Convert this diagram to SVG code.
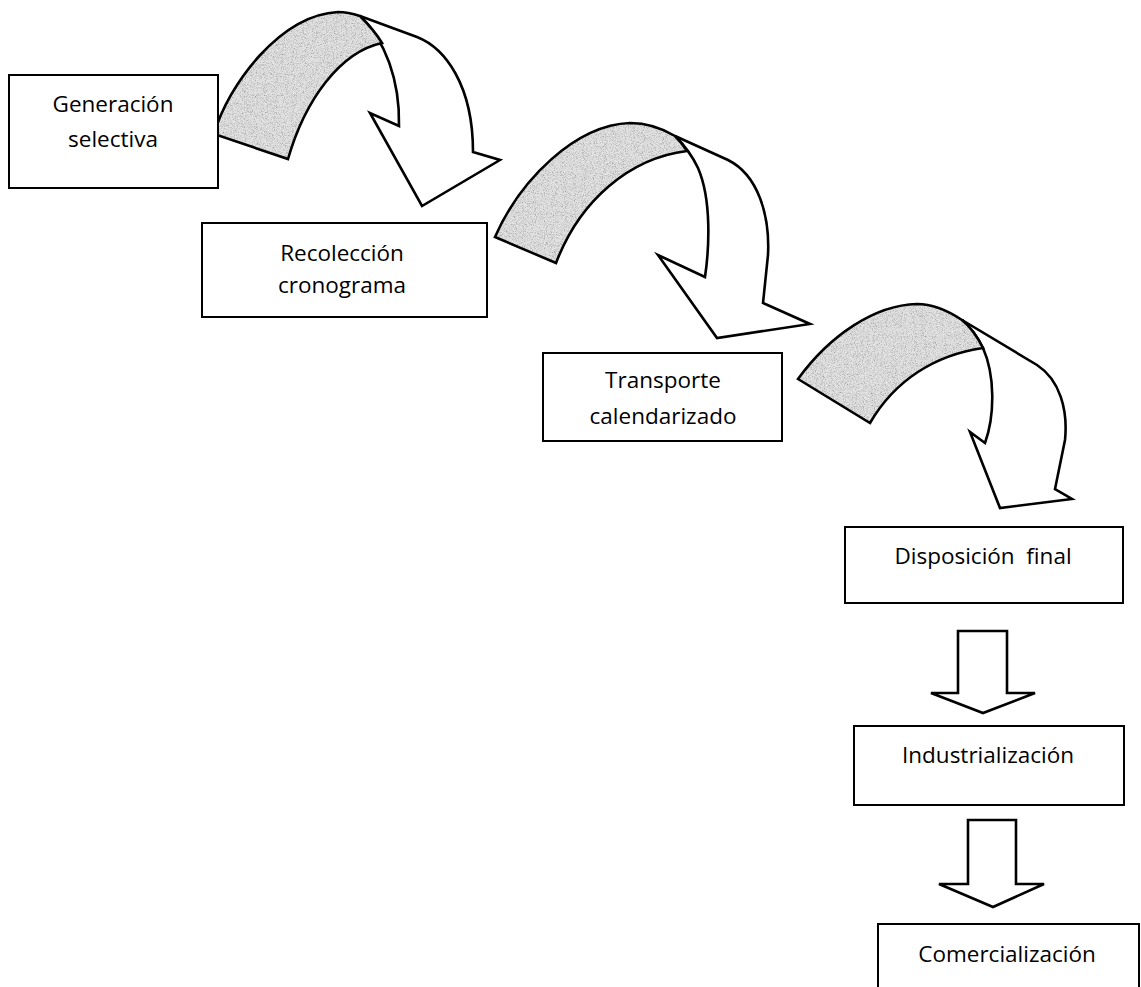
<svg xmlns="http://www.w3.org/2000/svg" width="1141" height="987" viewBox="0 0 1141 987">
<style>
.box{fill:#fff;stroke:#000;stroke-width:2}
.lbl{font-family:"Open Sans","Liberation Sans",sans-serif;font-size:22.5px;fill:#000;text-anchor:middle}
.band{fill:#e2e2e2;stroke:none}
.out{fill:none;stroke:#000;stroke-width:2.6;stroke-linejoin:miter}
.white{fill:#fff;stroke:#000;stroke-width:2.6;stroke-linejoin:miter}
</style>
<defs>
<filter id="grain" x="0" y="0" width="100%" height="100%">
<feTurbulence type="fractalNoise" baseFrequency="1.1" numOctaves="2" seed="4" result="n"/>
<feColorMatrix in="n" type="matrix" values="0 0 0 0 0.35  0 0 0 0 0.35  0 0 0 0 0.35  2.4 0 0 0 -1.05" result="dots"/>
<feComposite in="dots" in2="SourceGraphic" operator="in" result="d"/>
<feMerge><feMergeNode in="SourceGraphic"/><feMergeNode in="d"/></feMerge>
</filter>
</defs>
<rect width="1141" height="987" fill="#fff"/>

<g id="connectors">
<g id="arrow1">
<path class="white" d="M360,16 L417,37 C445,48 473,85 473,152 L500,160 L422,206 L370,113 L399,126 C400,80 385,40 360,16 Z"/>
<path class="band" filter="url(#grain)" d="M214,134 C228,85 280,15 338,12 C347,12 354,14 360,16 C368,24 376,33 382,43 C340,52 305,100 288,159 Z"/>
<path class="out" d="M214,134 C228,85 280,15 338,12 C347,12 354,14 360,16 C368,24 376,33 382,43 C340,52 305,100 288,159 Z"/>
</g>
<g id="arrow2">
<path class="white" d="M675,136 L728,160 C758,175 770,215 768,255 L763,303 L810,324 L717,338 L658,255 L705,277 C709,250 712,200 698,168 C692,155 684,145 675,136 Z"/>
<path class="band" filter="url(#grain)" d="M495,237 C520,180 575,125 630,123 C650,123 665,130 675,136 C680,141 684,146 687,151 C630,158 580,200 556,263 Z"/>
<path class="out" d="M495,237 C520,180 575,125 630,123 C650,123 665,130 675,136 C680,141 684,146 687,151 C630,158 580,200 556,263 Z"/>
</g>
<g id="arrow3">
<path class="white" d="M962,320 L1037,365 C1060,380 1068,410 1065,440 L1055,489 L1072,499 L1000,508 L970,432 L985,443 C995,415 995,375 983,348 C977,336 970,327 962,320 Z"/>
<path class="band" filter="url(#grain)" d="M798,379 C830,335 875,305 917,304 C935,304 950,312 962,320 C972,328 978,338 983,348 C935,355 895,380 870,423 Z"/>
<path class="out" d="M798,379 C830,335 875,305 917,304 C935,304 950,312 962,320 C972,328 978,338 983,348 C935,355 895,380 870,423 Z"/>
</g>
<path id="arrow4" class="white" d="M958,631 L1007,631 L1007,693 L1035,693 L983,713 L931,693 L958,693 Z"/>
<path id="arrow5" class="white" d="M968,820 L1016,820 L1016,884 L1044,884 L993,907 L939,884 L968,884 Z"/>
</g>

<g id="n1">
<rect class="box" x="9" y="75" width="209" height="113"/>
<text class="lbl" x="113" y="112">Generación</text>
<text class="lbl" x="113" y="147">selectiva</text>
</g>
<g id="n2">
<rect class="box" x="202" y="223" width="285" height="94"/>
<text class="lbl" x="342" y="261">Recolección</text>
<text class="lbl" x="342" y="293">cronograma</text>
</g>
<g id="n3">
<rect class="box" x="543" y="353" width="239" height="88"/>
<text class="lbl" x="663" y="388">Transporte</text>
<text class="lbl" x="663" y="424">calendarizado</text>
</g>
<g id="n4">
<rect class="box" x="845" y="527" width="278" height="76"/>
<text class="lbl" x="983" y="564" xml:space="preserve">Disposición  final</text>
</g>
<g id="n5">
<rect class="box" x="854" y="726" width="270" height="79"/>
<text class="lbl" x="988" y="763">Industrialización</text>
</g>
<g id="n6">
<rect class="box" x="878" y="924" width="261" height="100"/>
<text class="lbl" x="1007" y="962">Comercialización</text>
</g>
</svg>
